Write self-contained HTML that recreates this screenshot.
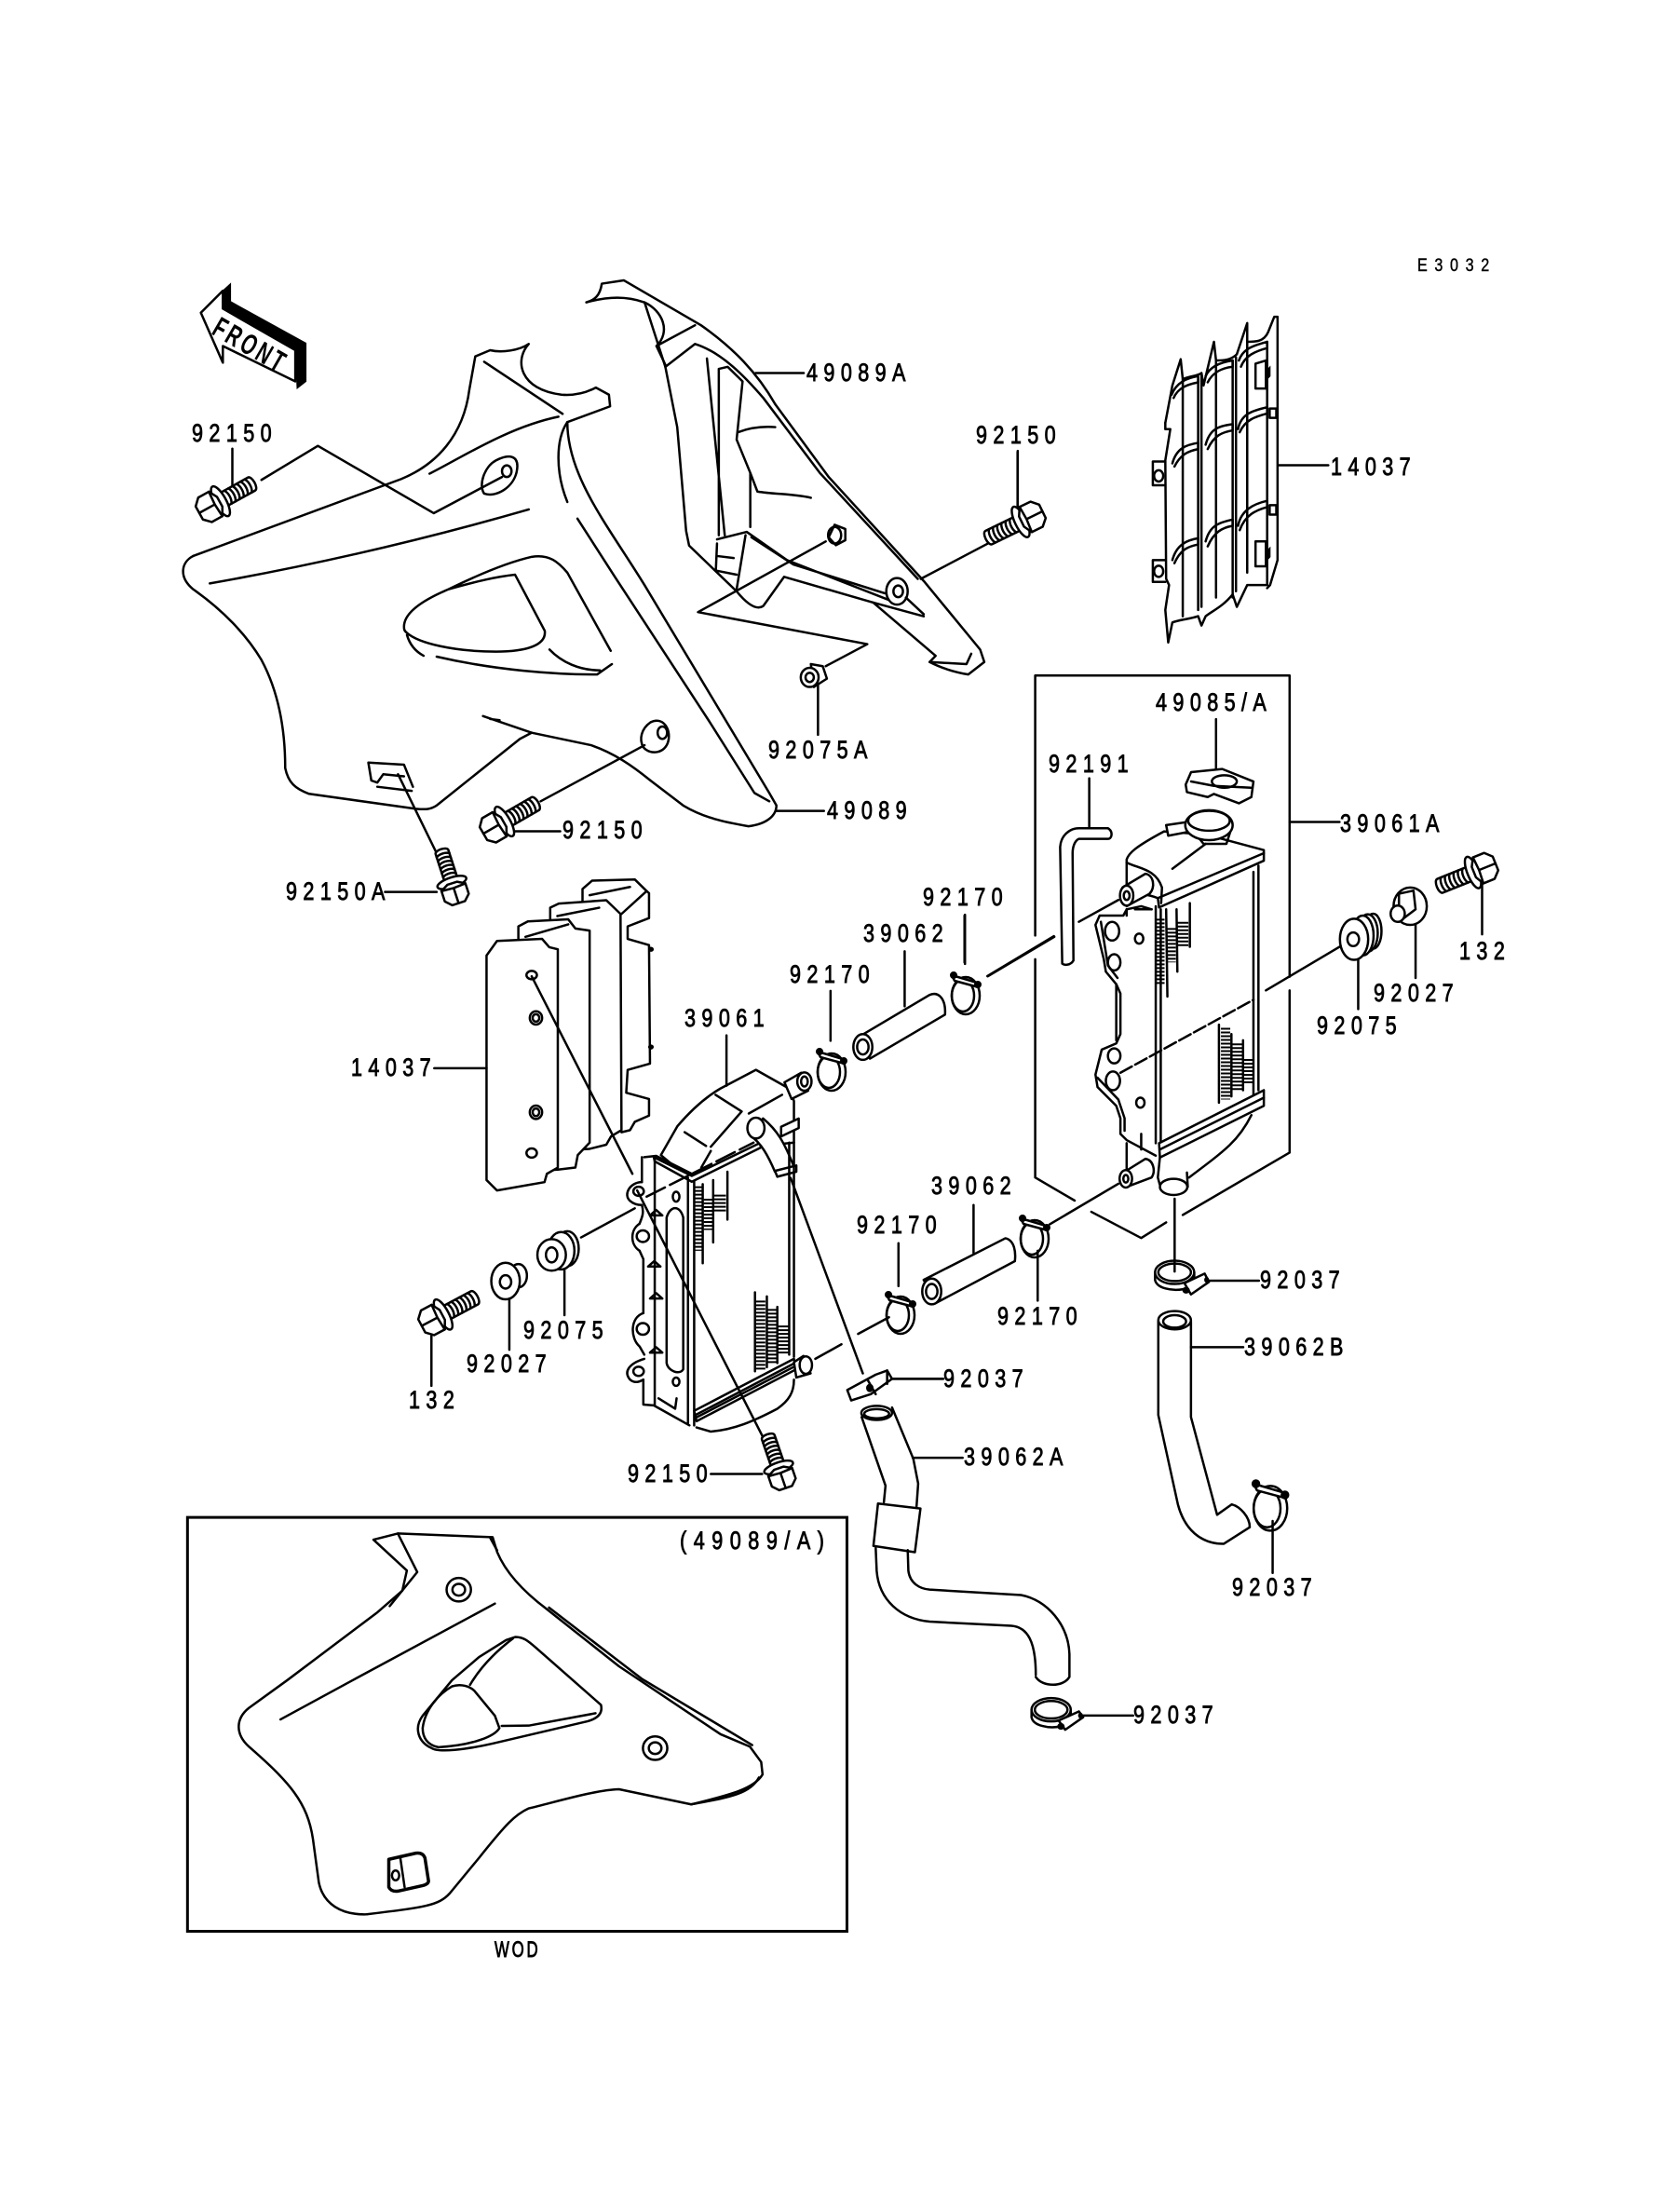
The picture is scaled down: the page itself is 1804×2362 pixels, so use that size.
<!DOCTYPE html>
<html><head><meta charset="utf-8"><title>Radiator diagram</title>
<style>
html,body{margin:0;padding:0;background:#fff}
svg{display:block}
svg *{vector-effect:non-scaling-stroke}
.l{fill:none;stroke:#000;stroke-width:2.5;stroke-linejoin:round;stroke-linecap:round}
.w{fill:#fff;stroke:#000;stroke-width:2.5;stroke-linejoin:round}
.b{fill:#000;stroke:#000;stroke-width:1}
.h{fill:none;stroke:#000;stroke-dasharray:2 2}
text{font-family:"Liberation Sans",sans-serif;fill:#000}
.t{font-size:27px;letter-spacing:8px;stroke:#000;stroke-width:.8}
</style></head><body>
<svg width="1804" height="2362" viewBox="0 0 1804 2362" xmlns="http://www.w3.org/2000/svg">
<defs>
<g id="bolt">
<path class="w" d="M14 -8 L48 -8 C53 -8 53 8 48 8 L14 8 Z"/>
<path class="l" d="M19 -8 C22 -4 22 4 19 8 M24 -8 C27 -4 27 4 24 8 M29 -8 C32 -4 32 4 29 8 M34 -8 C37 -4 37 4 34 8 M39 -8 C42 -4 42 4 39 8 M44 -8 C47 -4 47 4 44 8"/>
<ellipse class="w" cx="10" cy="0" rx="6" ry="18"/>
<path class="w" d="M-16 -8 L-9 -15 L4 -15 L9 -6 L9 6 L4 15 L-9 15 L-16 8 Z"/>
<path class="l" d="M-16 0 L3 0 M4 -15 L3 0 L4 15"/>
</g>
<g id="clamp">
<ellipse class="l" cx="1" cy="7" rx="15" ry="20"/>
<ellipse class="l" cx="-2" cy="7" rx="12" ry="17"/>
<path class="w" d="M-14 -15 L13 -7 L15 -2 L-11 -9 Z"/>
<circle class="b" cx="-12" cy="-15" r="3.5"/><circle class="b" cx="14" cy="-5" r="3.5"/>
</g>
</defs>

<!-- ZONE 1 : fairings -->
<g transform="translate(150 280) scale(.6378 .4464)">
<!-- FRONT arrow -->
<path class="w" d="M103 125 L140 72 L140 115 L262 215 L262 290 L140 205 L140 245 Z"/>
<path class="b" d="M140 72 L153 55 L153 98 L280 198 L280 290 L265 307 L262 215 L140 115 Z"/>
<!-- left fairing -->
<path class="l" d="M90 710 L440 525 C500 490 545 420 555 310 L565 230 L590 215 C610 222 640 215 655 200 C630 240 640 310 710 322 C735 325 755 315 768 305 L790 322 L792 350 L720 388 C700 430 700 510 720 580"/>
<path class="l" d="M720 388 C720 520 790 640 850 780 L1060 1280 L1072 1310 C1072 1335 1055 1355 1025 1360 C985 1350 950 1340 915 1310 L860 1250 C830 1215 800 1185 760 1165 L660 1135 L578 1095 M606 1105 L590 1102"/>
<path class="l" d="M737 620 L800 760 L960 1110 L1035 1280 L1060 1300"/>
<path class="l" d="M90 710 C70 725 65 760 90 790 C140 840 180 900 205 960 C235 1040 245 1130 245 1220 C250 1255 262 1270 285 1282 L465 1318 C480 1320 490 1320 500 1310 L640 1150 L660 1135"/>
<path class="l" d="M580 243 L712 368 M488 512 C540 475 620 400 705 375 M118 776 C300 730 480 670 655 598"/>
<path class="l" d="M660 712 C690 705 705 725 720 750 L793 938 M445 880 C445 850 470 820 520 790 C570 755 620 725 660 712 M520 790 C570 770 600 760 632 755 L682 890 C685 925 650 940 600 940 C530 940 470 920 450 895 C445 890 445 885 445 880 M450 900 C455 925 465 940 478 950 M500 952 C600 985 700 995 770 995 L795 970 M690 935 C710 965 740 985 775 985"/>
<path class="l" d="M600 480 C620 465 640 465 635 505 C630 545 600 570 580 560 C570 540 580 495 600 480 Z"/>
<ellipse class="l" cx="618" cy="506" rx="8" ry="14"/>
<path class="l" d="M205 527 L300 445 L495 607 L610 520"/>
<path class="l" d="M860 1110 C880 1095 895 1125 890 1155 C885 1185 860 1190 848 1170 C840 1150 845 1125 860 1110 Z"/>
<ellipse class="l" cx="880" cy="1135" rx="8" ry="15"/>
<path class="l" d="M850 1165 L675 1300"/>
<path class="l" d="M385 1207 L445 1212 L460 1265 M385 1207 L390 1250 L400 1255 L410 1235 L445 1240 M400 1265 L458 1275 M435 1235 L500 1425"/>
<!-- right fairing -->
<path class="l" d="M752 100 C765 95 775 85 778 55 L815 47 L945 155 C1000 210 1040 270 1070 345 L1160 520 L1320 770 L1415 935 L1422 965 L1395 995 C1375 990 1350 980 1330 965 L1340 950 L1235 822 L1085 760 L1050 830 C1040 840 1025 830 1005 795 L925 685 L920 650 L905 400 L885 255 L850 100 C820 85 790 85 752 100 Z"/>
<path class="l" d="M850 100 C880 120 895 170 870 205 L885 250 M870 205 L935 155 M885 255 L935 200 C980 220 1020 280 1050 330 L1145 510 L1310 765 M975 260 L990 255 L1015 290 L1005 430 L1028 510 L1028 640 M975 260 L975 660 M955 235 L985 660 M1008 412 C1030 400 1050 398 1070 400 M1028 510 L1040 555 C1070 562 1100 560 1130 570 M972 670 L1022 652 L1090 720 L1260 815 M1030 665 L1100 730 L1255 800 M972 680 L970 745 L1005 755 M972 710 L1000 715 M1020 660 L1005 790 M1290 810 L1320 850 M1235 822 L1320 855 M1330 965 L1392 970 L1400 945"/>
<ellipse class="l" cx="1275" cy="795" rx="18" ry="32"/><ellipse class="l" cx="1277" cy="795" rx="8" ry="14"/>
<path class="l" d="M1155 675 L940 845 L1225 922 L1155 975 M1315 765 L1428 680"/>
<path class="w" d="M1170 635 L1188 645 L1188 672 L1172 684 L1160 665 Z"/><ellipse class="l" cx="1170" cy="660" rx="11" ry="20"/>
<path class="w" d="M1130 970 L1150 975 L1157 1005 L1135 1025 Z"/><ellipse class="w" cx="1128" cy="1002" rx="15" ry="23"/><ellipse class="l" cx="1128" cy="1002" rx="7" ry="11"/>
<!-- leaders -->
<path class="l" d="M1037 270 L1118 270 M156 452 L156 540 M1478 460 L1478 590 M1142 1020 L1142 1140 M625 1372 L708 1372 M1072 1323 L1152 1323 M413 1518 L500 1518"/>
</g>

<!-- ZONE 2 : upper right -->
<g transform="translate(1000 300) scale(.4464 .6696)">
<!-- grille -->
<path class="l" d="M563 230 L580 170 L600 128 L605 160 C620 155 640 155 650 150 L655 170 L680 100 L685 130 C700 130 720 130 735 120 L760 70 L760 100 C780 100 800 100 810 85 L825 60 L833 60 L833 450 L815 490 L808 495"/>
<path class="l" d="M642 160 L642 530 M650 155 L650 525 M725 130 L725 510 M733 125 L733 500 M605 160 L605 540 M685 130 L685 510 M760 100 L760 470 M808 100 L808 490"/>
<path class="l" d="M563 230 L563 240 L575 240 L563 290 L565 480 L572 490 L563 530 L570 582 L580 550 C600 545 620 545 642 540 L650 555 L660 540 C680 530 700 525 725 505 L735 525 L760 490 L805 490"/>
<path class="l" d="M578 185 C590 165 615 158 642 155 L642 165 C620 168 595 172 583 190 M660 155 C670 140 695 133 725 130 L725 140 C700 142 678 148 665 165 M740 130 C750 110 780 105 808 100 L808 110 C780 115 755 122 745 140"/>
<path class="l" d="M580 295 C590 270 615 265 642 262 L642 272 C620 275 600 280 585 300 M660 265 C670 240 690 235 725 232 L725 242 C700 245 680 250 665 272 M738 240 C745 215 775 210 808 205 L808 215 C780 220 755 225 742 245"/>
<path class="l" d="M580 450 C590 425 615 418 642 415 L642 425 C620 428 600 432 585 455 M660 420 C670 395 690 390 725 385 L725 395 C700 398 680 405 665 428 M738 395 C745 370 775 360 808 355 L808 365 C780 370 755 378 742 402"/>
<path class="l" d="M563 292 L533 292 L533 330 L563 330 M563 450 L533 450 L533 485 L563 485 M780 135 L805 130 L805 175 L780 175 Z M780 420 L805 420 L805 460 L780 460 Z"/>
<ellipse class="l" cx="547" cy="315" rx="11" ry="9"/><ellipse class="l" cx="547" cy="468" rx="11" ry="9"/>
<rect class="l" x="814" y="207" width="16" height="15"/><rect class="l" x="814" y="362" width="16" height="15"/>
<path class="b" d="M808 145 L815 140 L815 155 L808 160 Z M808 435 L815 430 L815 445 L808 450 Z"/>
<path class="l" d="M835 298 L955 298"/>
<!-- bracket box -->
<path class="l" d="M250 1052 L250 635 L862 635 L862 1118 M862 1140 L862 1400 L605 1500 M250 1090 L250 1440 L345 1477 M385 1495 L505 1537 L565 1512"/>
<!-- hose 92191 -->
<path class="w" d="M315 1097 L310 910 C312 890 335 880 355 880 L425 880 C438 885 435 897 425 897 L355 897 C345 900 340 910 340 920 L342 1092 C335 1100 320 1100 315 1097 Z"/>
<!-- cap -->
<path class="w" d="M625 790 L700 785 L775 805 L770 830 L740 840 L680 825 L665 830 L615 822 L612 810 Z"/>
<ellipse class="l" cx="705" cy="805" rx="30" ry="10"/><path class="l" d="M625 805 L680 812 L770 815"/>
<!-- tank -->
<path class="w" d="M470 930 C475 920 490 910 560 885 L660 890 L800 915 L800 932 L548 1007 L545 992 C520 985 490 985 470 980 Z"/>
<path class="l" d="M470 935 C500 945 540 945 555 975 L553 1000 M580 945 L660 905 M545 992 L800 920"/>
<path class="w" d="M565 875 L615 870 L625 885 L570 892 Z"/>
<path class="l" d="M625 880 L655 905 L710 905 L722 880"/>
<ellipse class="w" cx="668" cy="875" rx="57" ry="24"/>
<ellipse class="l" cx="668" cy="868" rx="50" ry="16"/>
<path class="w" d="M460 975 L515 953 C535 955 540 975 525 985 L470 1005 Z"/>
<ellipse class="w" cx="470" cy="988" rx="16" ry="16"/><ellipse class="l" cx="470" cy="988" rx="7" ry="7"/>
<!-- core -->
<path class="l" d="M540 1005 L540 1385 M552 1010 L552 1385 M775 950 L775 1310 M787 940 L787 1300"/>
<path class="w" d="M548 1385 L800 1300 L800 1325 L550 1408 Z"/><path class="l" d="M550 1395 L800 1312"/>
<path class="h" d="M550 1025 L550 1130" style="stroke-width:10"/>
<path class="h" style="stroke-width:10" d="M577 1040 L577 1095"/>
<path class="h" style="stroke-width:12" d="M605 1030 L605 1070"/>
<path class="l" d="M565 1010 L568 1150 M590 1010 L592 1110 M622 1000 L622 1070"/>
<path class="h" style="stroke-width:10" d="M708 1200 L708 1315"/>
<path class="h" style="stroke-width:12" d="M735 1225 L735 1300"/>
<path class="h" style="stroke-width:10" d="M762 1250 L762 1290"/>
<path class="l" d="M692 1195 L692 1320 M722 1210 L722 1310 M750 1220 L750 1300"/>
<path class="l" d="M530 1010 L505 1005 L470 1010 L462 1020 L405 1020 L395 1035 L415 1090 L420 1110 L445 1130 L455 1145 L455 1210 L445 1225 L410 1235 L395 1275 L400 1295 L445 1325 L455 1345 L455 1370 L470 1380 L540 1405"/>
<path class="l" d="M470 1010 L470 1020 M408 1030 L425 1100 L448 1120 M445 1130 L445 1220 M400 1280 L450 1315 L465 1345 L465 1365 M505 1370 L505 1395 M490 1010 L530 1010"/>
<ellipse class="l" cx="435" cy="1045" rx="17" ry="15"/><ellipse class="l" cx="440" cy="1095" rx="15" ry="13"/><ellipse class="l" cx="500" cy="1057" rx="10" ry="8"/>
<ellipse class="l" cx="440" cy="1245" rx="15" ry="12"/><ellipse class="l" cx="437" cy="1285" rx="17" ry="15"/><ellipse class="l" cx="503" cy="1320" rx="10" ry="8"/>
<path class="l" stroke-dasharray="14 4" d="M455 1272 L775 1155"/>
<!-- bottom tank -->
<path class="l" d="M470 1385 L470 1430 M550 1408 L545 1440 L550 1452 M770 1340 C740 1380 710 1395 620 1440 M615 1432 L617 1455"/>
<path class="w" d="M455 1435 L515 1410 C535 1412 540 1430 530 1440 L470 1455 Z"/>
<ellipse class="w" cx="468" cy="1442" rx="15" ry="14"/><ellipse class="l" cx="468" cy="1442" rx="6" ry="6"/>
<ellipse class="w" cx="583" cy="1455" rx="33" ry="13"/>
<!-- lines -->
<path class="l" d="M135 1117 L295 1053 M355 1030 L450 995 M805 1140 L995 1065 M285 1515 L450 1450"/>
<path class="l" d="M685 705 L685 785 M380 800 L380 880 M862 870 L982 870 M1325 965 L1325 1050 M1165 1035 L1165 1120 M1027 1085 L1027 1170 M80 1020 L80 1095 M208 275 L208 365"/>
<!-- grommet right -->
<ellipse class="w" cx="1063" cy="1045" rx="20" ry="28"/><ellipse class="w" cx="1050" cy="1048" rx="24" ry="30"/><ellipse class="w" cx="1038" cy="1052" rx="26" ry="32"/>
<ellipse class="w" cx="1017" cy="1058" rx="34" ry="33"/><ellipse class="l" cx="1015" cy="1058" rx="14" ry="11"/>
<!-- collar right -->
<ellipse class="w" cx="1152" cy="1005" rx="40" ry="30"/>
<path class="w" d="M1125 985 L1160 980 L1165 1010 L1125 1030 Z"/>
<ellipse class="w" cx="1122" cy="1017" rx="17" ry="13"/>
</g>

<!-- ZONE 3 : left radiator and grille -->
<g transform="translate(350 950) scale(.5102 .4464)">
<path class="l" d="M540 40 L540 10 L560 -10 L650 -13 L675 15 L680 20 L680 80 L635 100 L635 130 L680 145 L682 430 L635 445 L632 500 L680 515 L680 555 L650 570 L640 590 L622 595"/>
<path class="l" d="M622 70 L675 15 M555 25 L640 5"/>
<path class="w" d="M472 85 L472 55 L490 45 L590 37 L620 70 L622 590 L600 605 L590 625 L555 635 L472 640 Z"/>
<path class="l" d="M487 75 L575 55"/>
<path class="w" d="M405 130 L405 100 L425 88 L510 83 L525 105 L555 110 L555 620 L530 650 L525 680 L488 685 L405 690 Z"/>
<path class="l" d="M420 125 L510 95"/>
<path class="w" d="M338 170 L360 135 L455 130 L470 150 L488 155 L488 680 L465 695 L460 715 L360 735 L338 710 Z"/>
<ellipse class="l" cx="433" cy="217" rx="11" ry="10"/><ellipse class="l" cx="442" cy="320" rx="13" ry="16"/><ellipse class="l" cx="442" cy="320" rx="7" ry="9"/>
<ellipse class="l" cx="442" cy="547" rx="13" ry="16"/><ellipse class="l" cx="442" cy="547" rx="7" ry="9"/><ellipse class="l" cx="433" cy="645" rx="11" ry="11"/>
<circle class="b" cx="684" cy="155" r="5"/><circle class="b" cx="684" cy="390" r="5"/>
<path class="l" d="M228 441 L338 441"/>
<!-- radiator -->
<path class="w" d="M705 650 L740 580 C770 540 800 510 830 490 L905 445 L975 490 L985 520 L985 620 L915 628 L770 712 Z"/>
<path class="w" d="M690 655 L770 700 L915 620 L915 632 L770 714 L692 665 Z"/>
<path class="l" d="M820 505 L875 545 M755 595 L800 628 M890 550 L960 505 M875 545 L810 630 M810 640 L790 680"/>
<path class="l" stroke-dasharray="22 6" d="M675 750 L900 620"/>
<path class="w" d="M965 475 L1000 452 L1015 495 L980 515 Z"/><ellipse class="w" cx="1007" cy="473" rx="15" ry="22"/><ellipse class="l" cx="1007" cy="473" rx="7" ry="12"/>
<path class="w" d="M958 582 L995 562 L995 585 L958 605 Z"/>
<path class="w" d="M920 562 C950 590 965 620 985 678 L945 690 C930 650 915 620 895 605 Z"/>
<ellipse class="w" cx="905" cy="585" rx="18" ry="25"/>
<path class="w" d="M945 688 L990 675 L990 690 L950 702 Z"/>
<path class="l" d="M762 705 L762 1295 M775 712 L775 1300 M975 620 L975 1130 M985 620 L985 1135"/>
<path class="w" d="M775 1265 L985 1140 L990 1165 L780 1290 Z"/><path class="l" d="M778 1275 L987 1150 M778 1282 L987 1158"/>
<path class="l" d="M780 1305 L810 1315 C860 1310 900 1290 950 1260 C975 1240 985 1220 985 1190"/>
<path class="w" d="M985 1148 L1005 1133 L1020 1175 L990 1185 Z"/>
<ellipse class="w" cx="1010" cy="1155" rx="13" ry="21"/>
<path class="h" style="stroke-width:10" d="M785 725 L785 880"/>
<path class="h" style="stroke-width:10" d="M805 755 L805 830"/>
<path class="h" style="stroke-width:14" d="M828 745 L828 790"/>
<path class="l" d="M793 720 L793 910 M815 710 L815 860 M845 690 L845 805"/>
<path class="h" style="stroke-width:10" d="M915 1000 L915 1170"/>
<path class="h" style="stroke-width:12" d="M938 1020 L938 1150"/>
<path class="h" style="stroke-width:12" d="M962 1060 L962 1130"/>
<path class="l" d="M903 980 L903 1170 M928 990 L928 1160 M950 1015 L950 1150"/>
<!-- flange -->
<path class="l" d="M670 655 L695 652 L770 695 M665 655 L665 715 M665 770 C670 790 665 800 660 815 M660 880 L668 900 L668 1030 M668 1190 L668 1250 L690 1252 L765 1300 M692 655 L692 1250 M700 1235 L735 1260 L738 1235"/>
<path class="l" d="M665 715 C640 715 625 745 640 760 C650 770 660 770 665 770 M660 815 C640 830 640 865 660 880 M668 1030 C640 1040 640 1090 660 1110 L670 1130 M670 1140 C640 1150 625 1170 640 1190 C650 1200 660 1195 668 1190"/>
<ellipse class="l" cx="658" cy="737" rx="11" ry="11"/><ellipse class="l" cx="667" cy="845" rx="13" ry="14"/><ellipse class="l" cx="667" cy="1068" rx="13" ry="14"/><ellipse class="l" cx="658" cy="1170" rx="11" ry="11"/>
<path class="l" d="M717 800 C725 770 745 770 752 800 L752 1165 C745 1180 720 1170 717 1150 Z"/>
<ellipse class="l" cx="737" cy="750" rx="7" ry="12"/><ellipse class="l" cx="737" cy="1195" rx="7" ry="10"/>
<path class="l" d="M682 795 L695 782 L708 795 Z M678 918 L691 905 L704 918 Z M682 995 L695 982 L708 995 Z M682 1125 L695 1112 L708 1125 Z"/>
<!-- long lines -->
<path class="l" d="M433 220 L645 695 M655 735 L925 1340 M978 705 L1130 1175 M537 848 L650 778 M1120 1080 L1185 1040 M1030 1140 L1085 1105 M1393 220 L1533 125"/>
<!-- hoses -->
<path class="w" d="M1115 370 L1270 265 C1290 255 1305 275 1303 312 L1145 418 Z"/><ellipse class="w" cx="1130" cy="390" rx="20" ry="31"/><ellipse class="l" cx="1130" cy="390" rx="12" ry="18"/>
<path class="w" d="M1258 950 L1430 850 C1450 855 1452 885 1450 905 L1285 1005 Z"/><ellipse class="w" cx="1275" cy="978" rx="20" ry="31"/><ellipse class="l" cx="1275" cy="978" rx="12" ry="18"/>
<!-- grommet / collar left -->
<ellipse class="w" cx="508" cy="875" rx="24" ry="42"/><ellipse class="w" cx="495" cy="880" rx="28" ry="45"/>
<ellipse class="w" cx="475" cy="890" rx="30" ry="38"/><ellipse class="l" cx="475" cy="890" rx="12" ry="18"/>
<ellipse class="w" cx="405" cy="940" rx="18" ry="28"/>
<ellipse class="w" cx="378" cy="953" rx="30" ry="44"/><ellipse class="l" cx="378" cy="955" rx="12" ry="16"/>
<!-- leaders -->
<path class="l" d="M843 362 L843 483 M502 925 L502 1035 M386 995 L386 1118 M222 1085 L222 1205 M1062 255 L1062 375 M1218 160 L1218 292 M1345 72 L1345 190 M1205 862 L1205 965 M1363 770 L1363 885 M1498 880 L1498 1000 M1190 1188 L1298 1188 M810 1417 L918 1417 M1235 1378 L1340 1378"/>
</g>

<!-- ZONE 5 : hoses lower right -->
<g transform="translate(900 1200) scale(.3508 .4464)">
<path class="l" d="M72 720 L145 885 L140 925 M165 697 L230 820 L245 880 L240 935"/>
<ellipse class="l" cx="118" cy="710" rx="47" ry="17"/><ellipse class="l" cx="118" cy="712" rx="38" ry="11"/>
<path class="w" d="M122 928 L252 940 L235 1045 L108 1030 Z"/>
<path class="l" d="M115 1035 L118 1090 C125 1160 190 1205 280 1212 L530 1222 C580 1225 605 1260 605 1340 M213 1040 L215 1090 C220 1120 250 1133 280 1135 L560 1148 C640 1160 705 1220 708 1290 L708 1345 M605 1345 C625 1370 690 1370 708 1345"/>
<ellipse class="l" cx="1030" cy="487" rx="50" ry="22"/><ellipse class="l" cx="1030" cy="490" rx="35" ry="15"/>
<path class="l" d="M980 490 L980 715 L1040 930 C1060 990 1110 1025 1180 1025 L1260 985 C1260 960 1230 935 1205 930 L1160 955 L1080 720 L1080 490"/>
<!-- flat clamps -->
<path class="l" d="M970 372 L970 390 C975 410 1020 418 1060 412 M1090 372 L1090 385"/><ellipse class="l" cx="1030" cy="372" rx="60" ry="28"/><ellipse class="l" cx="1030" cy="372" rx="50" ry="21"/>
<path class="w" d="M1060 398 L1122 375 L1135 395 L1080 425 Z"/><circle class="b" cx="1128" cy="390" r="6"/><ellipse class="b" cx="1065" cy="415" rx="10" ry="7"/>
<path class="l" d="M592 1424 L592 1442 C597 1462 642 1470 682 1464 M712 1424 L712 1437"/><ellipse class="l" cx="652" cy="1424" rx="60" ry="28"/><ellipse class="l" cx="652" cy="1424" rx="50" ry="21"/>
<path class="w" d="M675 1450 L737 1428 L750 1442 L695 1472 Z"/><circle class="b" cx="742" cy="1438" r="6"/><ellipse class="b" cx="682" cy="1464" rx="10" ry="7"/>
<path class="w" d="M28 655 L115 618 L150 608 L165 628 L100 665 L40 680 Z"/><ellipse class="b" cx="97" cy="650" rx="10" ry="9"/><path class="l" d="M90 630 L115 665 M150 608 L150 640"/>
<!-- leaders -->
<path class="l" d="M1030 195 L1030 370 M1135 392 L1288 392 M750 1438 L903 1438 M1080 552 L1240 552 M1330 970 L1330 1095 M165 628 L322 628"/>
</g>

<!-- ZONE 4 : WOD inset -->
<g transform="translate(180 1600) scale(.4847 .3316)">
<rect x="44" y="88" width="1461" height="1340" fill="none" stroke="#000" style="stroke-width:3"/>
<path class="l" d="M456 160 L510 140 L720 152 L730 200 C750 270 790 330 840 385 L1000 570 L1225 790 L1290 830 L1315 880 L1318 920 C1300 965 1250 985 1160 1017 L1000 968 C950 970 870 1005 800 1030 C770 1050 750 1080 690 1190 L625 1305 C600 1345 570 1350 440 1373 C385 1375 345 1340 335 1270 L322 1130 C310 1010 270 945 180 830 C150 790 150 740 180 705 L265 615 L465 395 L520 325 L530 260 L456 160 Z"/>
<path class="l" d="M510 140 L553 265 L492 375 M845 380 L1050 610 L1295 825 M1160 1017 C1240 995 1290 985 1310 930 M250 742 L410 615 L725 367 M715 155 L730 195"/>
<path class="l" d="M770 475 C790 475 800 490 820 515 L960 695 C965 725 950 740 930 748 L720 820 C660 840 600 850 585 835 C555 815 545 770 565 730 L630 615 L690 540 L750 485 Z"/>
<path class="l" d="M765 480 C720 530 690 580 670 630 M630 635 C650 625 670 635 680 650 L725 730 L735 770 C725 795 680 825 600 832 M630 635 C600 660 570 710 565 770 C565 800 575 825 600 832 M740 763 L800 762 L948 722"/>
<ellipse class="l" cx="645" cy="322" rx="27" ry="38"/><ellipse class="l" cx="645" cy="322" rx="14" ry="19"/>
<ellipse class="l" cx="1080" cy="835" rx="27" ry="38"/><ellipse class="l" cx="1080" cy="835" rx="14" ry="19"/>
<path class="l" style="stroke-width:3.5" d="M490 1195 L550 1175 Q565 1172 570 1190 L578 1265 Q578 1275 565 1280 L510 1298 Q495 1300 490 1285 Z"/>
<path class="l" d="M515 1185 L525 1285"/><ellipse class="l" cx="505" cy="1247" rx="8" ry="16"/>
</g>

<!-- bolts -->
<use href="#bolt" transform="translate(228 543) rotate(-29)"/>
<use href="#bolt" transform="translate(1105 556) rotate(154)"/>
<use href="#bolt" transform="translate(533 887) rotate(-30)"/>
<use href="#bolt" transform="translate(488 956) rotate(-108) scale(.9)"/>
<use href="#bolt" transform="translate(839 1584) rotate(-109) scale(.9)"/>
<use href="#bolt" transform="translate(1591 933) rotate(158)"/>
<use href="#bolt" transform="translate(467 1416) rotate(-28)"/>
<!-- clamps -->
<use href="#clamp" transform="translate(892 1144)"/>
<use href="#clamp" transform="translate(1036 1062)"/>
<use href="#clamp" transform="translate(966 1405)"/>
<use href="#clamp" transform="translate(1110 1323)"/>
<use href="#clamp" transform="translate(1363 1611) scale(1.2)"/>

<!-- labels -->
<text class="t" transform="translate(206 474) scale(.8 1)">92150</text>
<text class="t" transform="translate(866 409) scale(.8 1)">49089A</text>
<text class="t" transform="translate(1048 476) scale(.8 1)">92150</text>
<text class="t" transform="translate(825 814) scale(.8 1)">92075A</text>
<text class="t" transform="translate(604 900) scale(.8 1)">92150</text>
<text class="t" transform="translate(888 879) scale(.8 1)">49089</text>
<text class="t" transform="translate(307 966) scale(.8 1)">92150A</text>
<text class="t" transform="translate(1429 510) scale(.8 1)">14037</text>
<text class="t" transform="translate(1241 763) scale(.8 1)">49085/A</text>
<text class="t" transform="translate(1126 829) scale(.8 1)">92191</text>
<text class="t" transform="translate(1439 893) scale(.8 1)">39061A</text>
<text class="t" transform="translate(1567 1030) scale(.8 1)">132</text>
<text class="t" transform="translate(1475 1075) scale(.8 1)">92027</text>
<text class="t" transform="translate(1414 1110) scale(.8 1)">92075</text>
<text class="t" transform="translate(991 972) scale(.8 1)">92170</text>
<text class="t" transform="translate(927 1011) scale(.8 1)">39062</text>
<text class="t" transform="translate(848 1055) scale(.8 1)">92170</text>
<text class="t" transform="translate(735 1102) scale(.8 1)">39061</text>
<text class="t" transform="translate(377 1155) scale(.8 1)">14037</text>
<text class="t" transform="translate(1000 1282) scale(.8 1)">39062</text>
<text class="t" transform="translate(920 1324) scale(.8 1)">92170</text>
<text class="t" transform="translate(1071 1422) scale(.8 1)">92170</text>
<text class="t" transform="translate(562 1437) scale(.8 1)">92075</text>
<text class="t" transform="translate(501 1473) scale(.8 1)">92027</text>
<text class="t" transform="translate(439 1512) scale(.8 1)">132</text>
<text class="t" transform="translate(1013 1489) scale(.8 1)">92037</text>
<text class="t" transform="translate(674 1591) scale(.8 1)">92150</text>
<text class="t" transform="translate(1035 1573) scale(.8 1)">39062A</text>
<text class="t" transform="translate(1353 1383) scale(.8 1)">92037</text>
<text class="t" transform="translate(1336 1455) scale(.8 1)">39062B</text>
<text class="t" transform="translate(1323 1713) scale(.8 1)">92037</text>
<text class="t" transform="translate(1217 1850) scale(.8 1)">92037</text>
<text class="t" style="letter-spacing:9.4px" transform="translate(730 1663) scale(.8 1)">(49089/A)</text>
<text class="t" style="letter-spacing:4px;font-size:24px" transform="translate(531 2101) scale(.7 1)">WOD</text>
<text class="t" style="font-size:19px;letter-spacing:9px;stroke-width:.4" transform="translate(1522 291) scale(.85 1)">E3032</text>
<text style="font-size:24px;font-weight:bold;letter-spacing:4px" transform="translate(226 358) rotate(30) scale(.85 1.3)">FRONT</text>
</svg>
</body></html>
